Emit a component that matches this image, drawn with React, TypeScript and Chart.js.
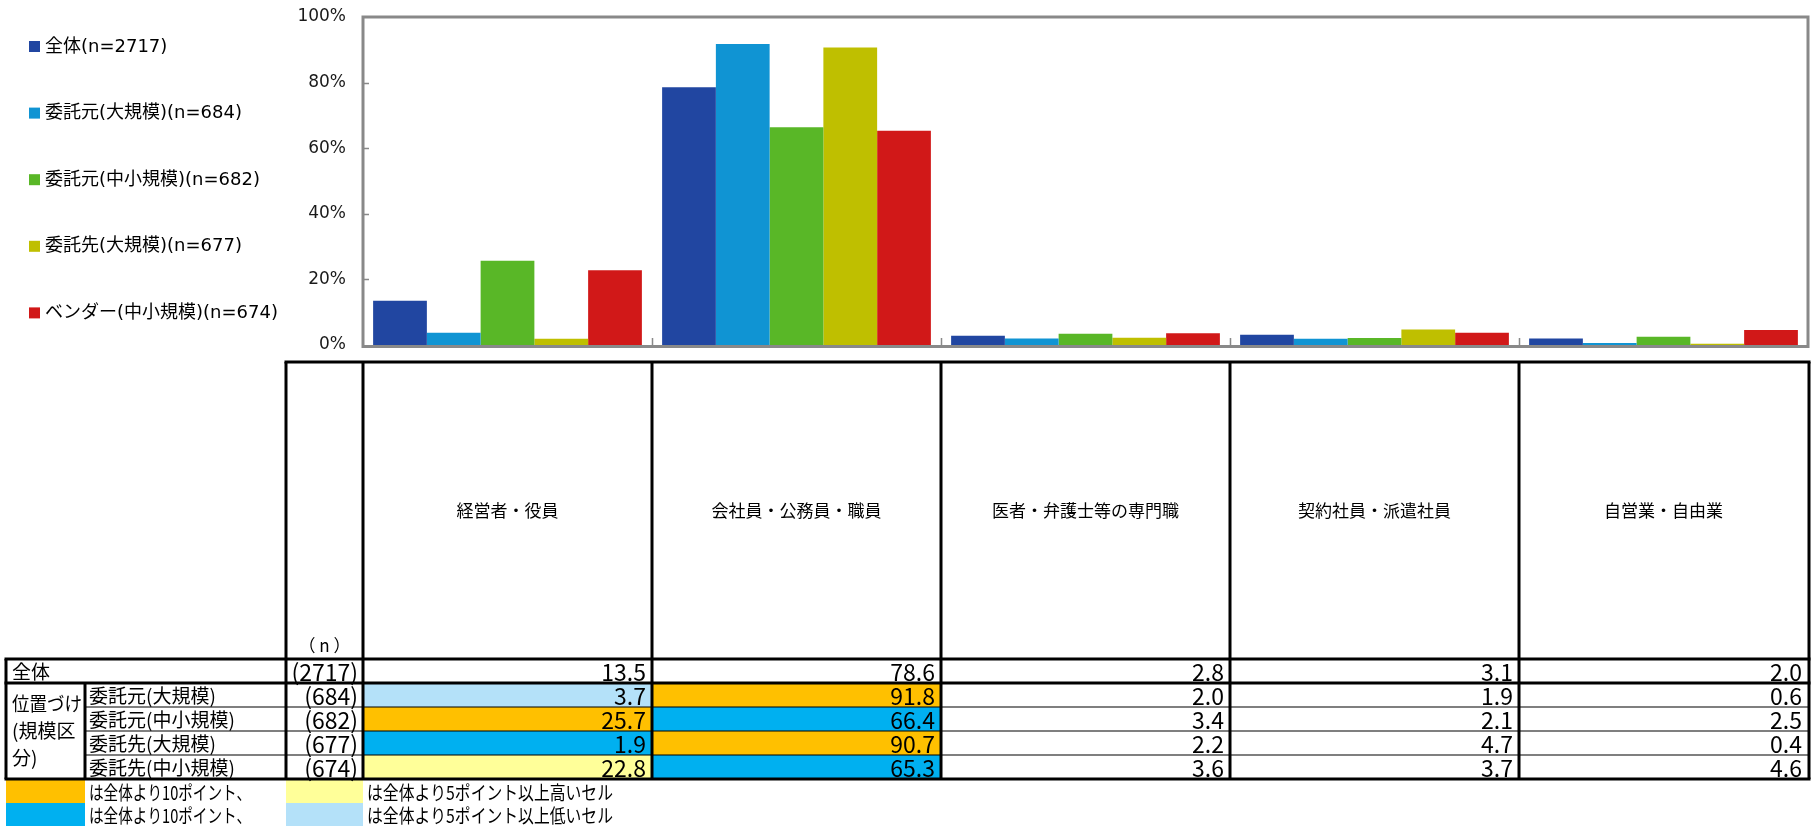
import { useEffect, useRef } from 'react';
import { Chart, registerables } from 'chart.js';

Chart.register(...registerables);

// ---- data ----
const CATEGORIES = ['経営者・役員', '会社員・公務員・職員', '医者・弁護士等の専門職', '契約社員・派遣社員', '自営業・自由業'];
const SERIES_LABELS = ['全体(n=2717)', '委託元(大規模)(n=684)', '委託元(中小規模)(n=682)', '委託先(大規模)(n=677)', 'ベンダー(中小規模)(n=674)'];
const ROW_LABELS = ['全体', '委託元(大規模)', '委託元(中小規模)', '委託先(大規模)', '委託先(中小規模)'];
const ROW_N = [2717, 684, 682, 677, 674];
const GROUP_LABEL_LINES = ['位置づけ', '(規模区', '分)'];

const TOTAL = [13.5, 78.6, 2.8, 3.1, 2.0];
const CLIENT_LARGE = [3.7, 91.8, 2.0, 1.9, 0.6];
const CLIENT_SMALL = [25.7, 66.4, 3.4, 2.1, 2.5];
const CONTRACTOR_LARGE = [1.9, 90.7, 2.2, 4.7, 0.4];
const VENDOR_SMALL = [22.8, 65.3, 3.6, 3.7, 4.6];
const SERIES_VALUES = [TOTAL, CLIENT_LARGE, CLIENT_SMALL, CONTRACTOR_LARGE, VENDOR_SMALL];

const Y_TICKS = [0, 20, 40, 60, 80, 100];
const NOTE_HIGH_10 = 'は全体より10ポイント、';
const NOTE_LOW_10 = 'は全体より10ポイント、';
const NOTE_HIGH_5 = 'は全体より5ポイント以上高いセル';
const NOTE_LOW_5 = 'は全体より5ポイント以上低いセル';
const N_HEADER = '（ n ）';

// ---- styles ----
const SERIES_COLORS = ['#2146A1', '#1094D3', '#59B727', '#BFBF00', '#D11818'];
const HIGH10 = '#FFC000';
const HIGH5 = '#FFFF99';
const LOW10 = '#00B0F0';
const LOW5 = '#B4E1F9';

const W = 1812;
const H = 826;
const LATIN = '"DejaVu Sans", "Noto Sans CJK JP", sans-serif';
const CJK = '"Noto Sans CJK JP", sans-serif';

function cellColor(v: number, base: number): string | null {
  const d = v - base;
  if (d >= 10) return HIGH10;
  if (d >= 5) return HIGH5;
  if (d <= -10) return LOW10;
  if (d <= -5) return LOW5;
  return null;
}

const framePlugin = {
  id: 'frame',
  afterDatasetsDraw(chart: any) {
    const { ctx, chartArea: a, scales } = chart;
    const y = scales.y;
    const x = scales.x;
    ctx.save();
    ctx.strokeStyle = '#898989';
    ctx.lineWidth = 3;
    // plot-area border, bottom edge sits just under the bars
    ctx.strokeRect(a.left, a.top, a.right - a.left, a.bottom + 1.5 - a.top);
    ctx.lineWidth = 1.5;
    ctx.beginPath();
    Y_TICKS.forEach((t) => {
      if (t === 0 || t === 100) return;
      const py = Math.round(y.getPixelForValue(t)) + 0.5;
      ctx.moveTo(a.left, py);
      ctx.lineTo(a.left + 6, py);
    });
    const cw = (x.right - x.left) / CATEGORIES.length;
    for (let i = 1; i < CATEGORIES.length; i++) {
      const px = Math.round(x.getPixelForValue(i) - cw / 2) + 0.5;
      ctx.moveTo(px, a.bottom);
      ctx.lineTo(px, a.bottom - 7);
    }
    ctx.stroke();
    ctx.restore();
  },
};

const sideLegendPlugin = {
  id: 'sideLegend',
  afterDraw(chart: any) {
    const { ctx } = chart;
    ctx.save();
    ctx.font = `18px ${LATIN}`;
    ctx.textBaseline = 'middle';
    ctx.textAlign = 'left';
    chart.data.datasets.forEach((ds: any, i: number) => {
      const cy = 47 + i * 66.6;
      ctx.fillStyle = ds.backgroundColor;
      ctx.fillRect(29, cy - 6, 11, 11);
      ctx.fillStyle = '#000';
      ctx.fillText(ds.label, 45, cy);
    });
    ctx.restore();
  },
};

const tablePlugin = {
  id: 'dataTable',
  afterDraw(chart: any) {
    const { ctx, chartArea: a, scales } = chart;
    const x = scales.x;
    const n = CATEGORIES.length;
    const cw = (x.right - x.left) / n;
    const colL = (i: number) => x.getPixelForValue(i) - cw / 2;
    const colR = (i: number) => x.getPixelForValue(i) + cw / 2;
    const right = a.right + 1;
    const x0 = 6;
    const x1 = 85;
    const x2 = 286;
    const x3 = a.left;
    const top = 362;
    const rows = [659, 683, 707, 731, 755, 779];
    const noteRows = [780, 803, 826];

    ctx.save();
    // highlighted cells
    for (let r = 1; r < ROW_LABELS.length; r++) {
      for (let c = 0; c < n; c++) {
        const col = cellColor(SERIES_VALUES[r][c], TOTAL[c]);
        if (col) {
          ctx.fillStyle = col;
          ctx.fillRect(colL(c), rows[r], colR(c) - colL(c), rows[r + 1] - rows[r]);
        }
      }
    }
    // note swatches
    ctx.fillStyle = HIGH10;
    ctx.fillRect(x0, noteRows[0], x1 - x0, noteRows[1] - noteRows[0]);
    ctx.fillStyle = LOW10;
    ctx.fillRect(x0, noteRows[1], x1 - x0, noteRows[2] - noteRows[1]);
    ctx.fillStyle = HIGH5;
    ctx.fillRect(x2, noteRows[0], x3 - x2, noteRows[1] - noteRows[0]);
    ctx.fillStyle = LOW5;
    ctx.fillRect(x2, noteRows[1], x3 - x2, noteRows[2] - noteRows[1]);

    // lines
    ctx.strokeStyle = '#000';
    const line = (ax: number, ay: number, bx: number, by: number, w: number) => {
      ctx.lineWidth = w;
      ctx.beginPath();
      ctx.moveTo(ax, ay);
      ctx.lineTo(bx, by);
      ctx.stroke();
    };
    const thick = 3;
    const thin = 1.2;
    for (let r = 2; r < 5; r++) line(x1, rows[r], right, rows[r], thin);
    line(x2 - 1.5, top, right + 1.5, top, thick);
    line(x0 - 1.5, rows[0], right + 1.5, rows[0], thick);
    line(x0 - 1.5, rows[1], right + 1.5, rows[1], thick);
    line(x0 - 1.5, rows[5], right + 1.5, rows[5], thick);
    const verticals = [x2, x3];
    for (let c = 0; c < n; c++) verticals.push(colR(c));
    verticals[verticals.length - 1] = right;
    verticals.forEach((vx) => line(vx, top, vx, rows[5], thick));
    line(x0, rows[0], x0, rows[5], thick);
    line(x1, rows[1], x1, rows[5], thick);

    // header texts
    ctx.fillStyle = '#000';
    ctx.textBaseline = 'middle';
    ctx.textAlign = 'center';
    ctx.font = `17px ${CJK}`;
    CATEGORIES.forEach((c, i) => ctx.fillText(c, x.getPixelForValue(i), 511));
    ctx.fillText(N_HEADER, (x2 + x3) / 2, 646);

    // row texts
    ctx.font = `19px ${CJK}`;
    ctx.textAlign = 'left';
    ctx.fillText(ROW_LABELS[0], x0 + 6, (rows[0] + rows[1]) / 2 + 1);
    for (let r = 1; r < ROW_LABELS.length; r++) {
      ctx.fillText(ROW_LABELS[r], x1 + 4, (rows[r] + rows[r + 1]) / 2 + 1);
    }
    GROUP_LABEL_LINES.forEach((t, i) => ctx.fillText(t, x0 + 6, 704 + i * 27, x1 - x0 - 9));

    ctx.font = `23px ${CJK}`;
    ctx.textAlign = 'right';
    for (let r = 0; r < ROW_LABELS.length; r++) {
      const cy = (rows[r] + rows[r + 1]) / 2 + 1;
      ctx.fillText(`(${ROW_N[r]})`, x3 - 5, cy);
      for (let c = 0; c < n; c++) {
        ctx.fillText(SERIES_VALUES[r][c].toFixed(1), colR(c) - 6, cy);
      }
    }

    // notes
    ctx.font = `19px ${CJK}`;
    ctx.textAlign = 'left';
    ctx.fillText(NOTE_HIGH_10, x1 + 4, (noteRows[0] + noteRows[1]) / 2 + 1, 162);
    ctx.fillText(NOTE_LOW_10, x1 + 4, (noteRows[1] + noteRows[2]) / 2 + 1, 162);
    ctx.fillText(NOTE_HIGH_5, x3 + 4, (noteRows[0] + noteRows[1]) / 2 + 1, 246);
    ctx.fillText(NOTE_LOW_5, x3 + 4, (noteRows[1] + noteRows[2]) / 2 + 1, 246);
    ctx.restore();
  },
};

export default function App() {
  const ref = useRef<HTMLCanvasElement>(null);

  useEffect(() => {
    document.body.style.margin = '0';
    const chart = new Chart(ref.current as HTMLCanvasElement, {
      type: 'bar',
      data: {
        labels: CATEGORIES,
        datasets: SERIES_VALUES.map((vals, i) => ({
          label: SERIES_LABELS[i],
          data: vals,
          backgroundColor: SERIES_COLORS[i],
          borderWidth: 0,
          categoryPercentage: 0.93,
          barPercentage: 1,
        })),
      },
      options: {
        animation: false,
        responsive: false,
        layout: { padding: { top: 17, left: 0, right: 4, bottom: 0 } },
        plugins: {
          legend: { display: false },
          tooltip: { enabled: false },
        },
        scales: {
          x: {
            grid: { display: false, drawTicks: false },
            border: { display: false },
            ticks: { display: false },
            afterFit: (s: any) => {
              s.height = H - 345;
              s.paddingLeft = 0;
              s.paddingRight = 0;
            },
          },
          y: {
            min: 0,
            max: 100,
            grid: { display: false, drawTicks: false },
            border: { display: false },
            ticks: {
              stepSize: 20,
              padding: 17,
              color: '#1a1a1a',
              font: { family: LATIN, size: 17 },
              callback: (v: any) => `${v}%`,
            },
            afterFit: (s: any) => {
              s.width = 363;
              s.paddingTop = 0;
              s.paddingBottom = 0;
            },
          },
        },
      },
      plugins: [framePlugin, sideLegendPlugin, tablePlugin],
    });
    if ((document as any).fonts) {
      Promise.all([
        (document as any).fonts.load(`18px "Noto Sans CJK JP"`),
        (document as any).fonts.load(`18px "DejaVu Sans"`),
      ]).then(() => chart.update()).catch(() => {});
    }
    return () => chart.destroy();
  }, []);

  return (
    <div style={{ width: W, height: H }}>
      <canvas ref={ref} width={W} height={H} style={{ width: W, height: H, display: 'block' }} />
    </div>
  );
}
